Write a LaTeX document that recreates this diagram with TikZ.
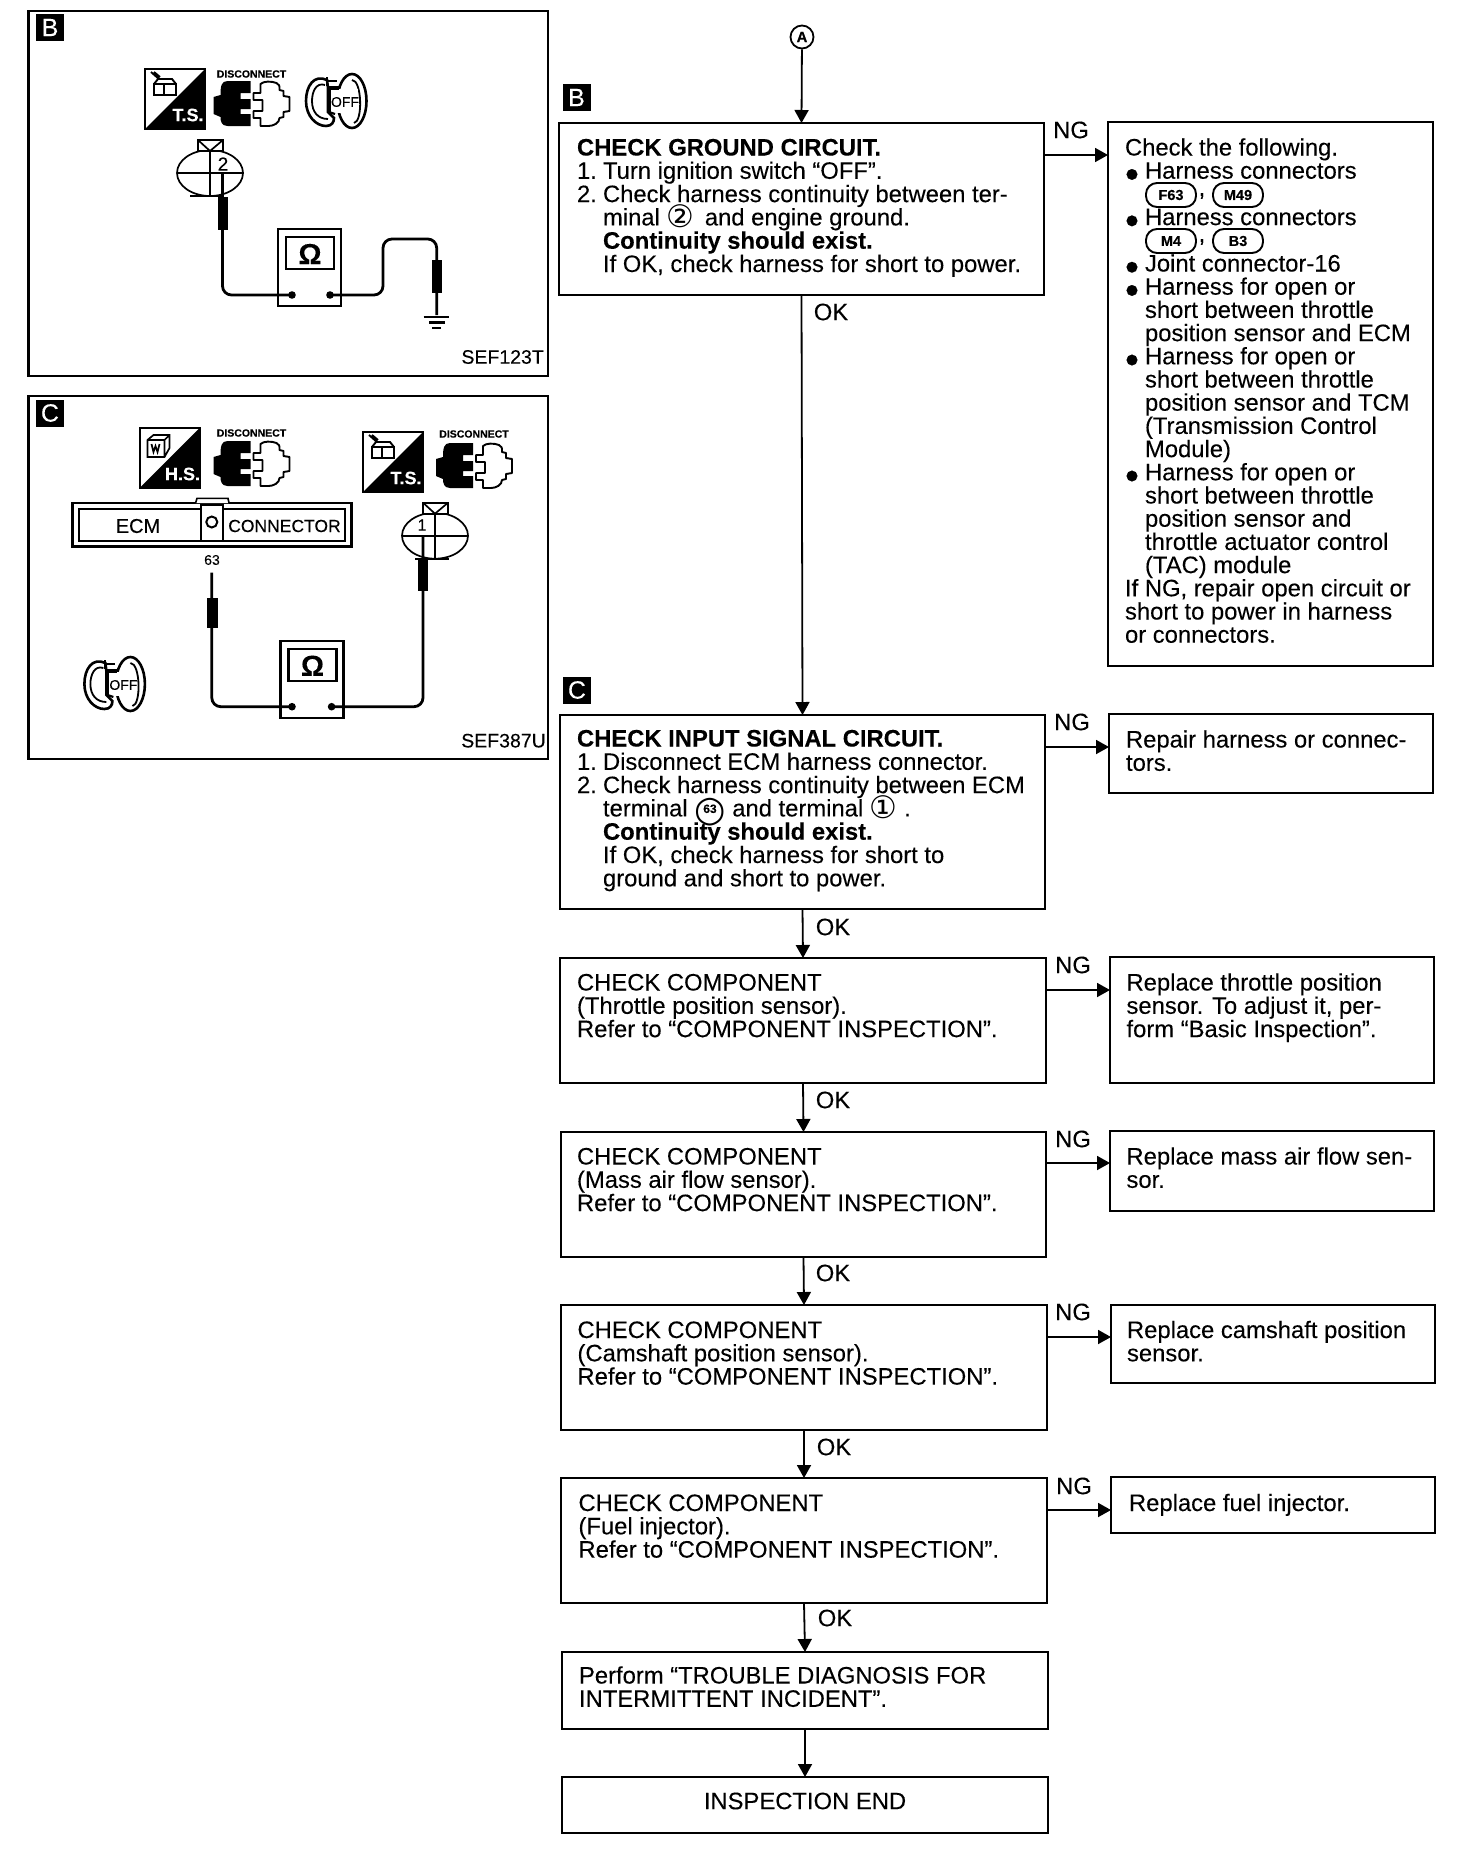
\documentclass[tikz,border=0pt]{standalone}
\usepackage{fontspec}
\setmainfont{Liberation Sans}[FakeBold=0.12]
\newfontfamily\djv{DejaVu Sans}
\usetikzlibrary{arrows.meta}
\newcommand\firstln{\rule{0pt}{18pt}}
\newcommand\tightlines{\lineskiplimit=-100pt\relax\lineskip=0pt\relax}
\newcommand\numcol[1]{\makebox[26pt][l]{#1}}
\newcommand\indentcol{\hspace*{26pt}}
\newcommand\bul{\makebox[20pt][l]{\smash{\raisebox{-9pt}{\fontsize{40}{40}\selectfont •}}}}
\newcommand\bulind{\hspace*{20pt}}
\newcommand\cdig[1]{\smash{\raisebox{-2.5pt}{\djv\fontsize{31}{31}\selectfont #1}}}
\newcommand\csixtythree{\smash{\ooalign{\raisebox{-5pt}{\djv\fontsize{36}{36}\selectfont ○}\cr\hfil\raisebox{3.5pt}{\fontsize{12}{12}\selectfont\bfseries 63}\hfil\cr}}}
\newcommand\flowbox[5]{%
  \pgfmathsetlengthmacro\bw{(#4-#2)*1pt}%
  \pgfmathsetlengthmacro\bh{(#5-#3)*1pt}%
  \node[boxnode,minimum width=\bw,minimum height=\bh] (#1) at ({(#2+#4)/2},{(#3+#5)/2}) {};}
\tikzset{
  boxnode/.style={draw,line width=2.4pt,inner sep=0pt,outer sep=0pt},
  panelnode/.style={draw,line width=2.2pt,inner sep=0pt,outer sep=0pt},
  txt/.style={anchor=north west,inner sep=0pt,outer sep=0pt,align=left,
    font=\fontsize{23.8}{23.3}\selectfont\tightlines},
  flag/.style={inner sep=0pt,font=\fontsize{23.8}{23.8}\selectfont},
  badge/.style={fill=black,text=white,inner sep=0pt,minimum width=28pt,minimum height=27pt,font=\fontsize{25}{25}\selectfont},
  conn/.style={draw,line width=1.8pt,-{Triangle[length=13pt,width=14pt]}},
  oval/.style={draw,line width=1.9pt,rounded corners=11pt,minimum width=50pt,minimum height=24pt,inner sep=0pt,font=\fontsize{14.5}{14.5}\selectfont\bfseries},
  wire/.style={line width=2.8pt,rounded corners=9pt},
  thinl/.style={line width=1.7pt},
  discotxt/.style={inner sep=0pt,font=\fontsize{10.5}{10.5}\selectfont\bfseries},
  sef/.style={anchor=east,inner sep=0pt,font=\fontsize{19.5}{19.5}\selectfont},
  tsicon/.pic={
    \fill[black] (0,60) -- (60,0) -- (60,60) -- cycle;
    \draw[line width=2pt] (0,0) rectangle (60,60);
    \draw[line width=1.9pt] (9,15) rectangle (19,26) (19,15) rectangle (31,26)
      (9,15) -- (13,10) -- (27,10) -- (31,15) (6,3) -- (14,10) (9,3) -- (15,8);
    \node[text=white,inner sep=0pt,font=\fontsize{18}{18}\selectfont\bfseries] (lbl) at (43,46) {#1};
  },
  hsicon/.pic={
    \fill[black] (0,60) -- (60,0) -- (60,60) -- cycle;
    \draw[line width=2pt] (0,0) rectangle (60,60);
    \draw[line width=1.7pt] (8,12) -- (14,7) -- (30,7) -- (30,20) -- (25,29) -- (8,29) -- cycle (8,12) -- (25,12) -- (30,7) (25,12) -- (25,29)
      (12,16) -- (14,24) -- (16,18) -- (18,24) -- (20,16);
    \node[text=white,inner sep=0pt,font=\fontsize{18}{18}\selectfont\bfseries] (lbl) at (43,46) {#1};
  },
  plug/.pic={
    \fill[black] (14,0) -- (37,0) -- (37,12) -- (27,12) -- (27,18) -- (37,18) -- (37,28) -- (27,28) -- (27,33) -- (37,33) -- (37,45) -- (14,45)
      .. controls (8,45) and (7,40) .. (7,36) -- (0,33) -- (0,16) -- (7,14) .. controls (7,5) and (8,0) .. (14,0) -- cycle;
    \draw[line width=1.9pt,line join=round] (40,12) -- (47,12) -- (47,3) .. controls (50,0) and (58,0) .. (63,2) .. controls (66,4) .. (66,9)
      -- (70,10) -- (70,15) -- (76,16) -- (76,30) -- (70,31) -- (70,36) -- (66,37) .. controls (66,42) and (60,45) .. (55,45) -- (47,45)
      -- (47,37) -- (40,37) -- (40,30) -- (49,30) -- (49,19) -- (40,19) -- cycle;
  },
  keyicon/.pic={
    \draw[line width=2.6pt,fill=white] (46,29) ellipse (14.5 and 27);
    \draw[line width=1.8pt] (46,8) .. controls (56,8) and (57,50) .. (48,51);
    \draw[line width=2.6pt,fill=white] (21,8) .. controls (8,2) and (0,14) .. (0,29) .. controls (0,44) and (10,54) .. (20,54) .. controls (26,54) and (28,50) .. (28,46) -- (22,40) -- (22,16) -- cycle;
    \draw[line width=1.8pt] (19,13) .. controls (10,10) and (6,20) .. (6,29) .. controls (6,40) and (12,47) .. (22,47);
    \fill[white] (24,17) rectangle (52,41);
    \draw[line width=3.2pt] (23,40) -- (23,16) -- (33,16);
    \draw[line width=2.2pt] (23,40) -- (29,42);
    \draw[line width=2pt] (21,5) -- (21,14) (21,9) -- (31,9);
    \node[inner sep=0pt,font=\fontsize{14}{14}\selectfont] (off) at (39,30) {OFF};
  },
  connector/.pic={
    \draw[thinl,fill=white] (0,0) ellipse (33 and 23);
    \draw[thinl] (-33,0) -- (33,0) (0,-23) -- (0,23);
    \draw[line width=2.4pt] (-20,23) -- (14,23);
    \draw[thinl,fill=white] (-12,-33) rectangle (13,-22);
    \draw[thinl] (-12,-33) -- (0,-22) -- (13,-33);
  },
  meter/.pic={
    \draw[line width=2.2pt,fill=white] (0,0) rectangle (63,77);
    \draw[line width=2.2pt] (8,8) rectangle (56,40);
    \node[inner sep=0pt,font=\fontsize{29}{29}\selectfont\bfseries] (om) at (32,25) {Ω};
  }
}
\begin{document}
\begin{tikzpicture}[x=1pt,y=-1pt]
\useasboundingbox (0,0) rectangle (1456,1868);
\fill[white] (0,0) rectangle (1456,1868);

% ---------- flow chart ----------
\node[draw,circle,line width=1.8pt,minimum size=23pt,inner sep=0pt,font=\fontsize{15}{15}\selectfont\bfseries] (A) at (802,37) {A};
\flowbox{box1}{559}{123}{1044}{295}
\flowbox{right1}{1108}{122}{1433}{666}
\flowbox{box2}{560}{715}{1045}{909}
\flowbox{right2}{1109}{714}{1433}{793}
\flowbox{comp1}{560}{958}{1046}{1083}
\flowbox{repl1}{1110}{957}{1434}{1083}
\flowbox{comp2}{561}{1132}{1046}{1257}
\flowbox{repl2}{1110}{1131}{1434}{1211}
\flowbox{comp3}{561}{1305}{1047}{1430}
\flowbox{repl3}{1111}{1305}{1435}{1383}
\flowbox{comp4}{561}{1478}{1047}{1603}
\flowbox{repl4}{1111}{1477}{1435}{1533}
\flowbox{perf}{562}{1652}{1048}{1729}
\flowbox{endb}{562}{1777}{1048}{1833}

\node[badge] (fb) at (576.5,97.5) {B};
\node[badge] (fc) at (577,690) {C};

\node[txt] (t1) at (577,137.5) {\firstln\textbf{CHECK GROUND CIRCUIT.}\\
\numcol{1.}Turn ignition switch “OFF”.\\
\numcol{2.}Check harness continuity between ter-\\
\indentcol minal \cdig{②} \,and engine ground.\\
\indentcol\textbf{Continuity should exist.}\\
\indentcol If OK, check harness for short to power.};

\node[txt,font=\fontsize{23.8}{23.2}\selectfont\tightlines] (t2) at (1125,137.5) {\firstln Check the following.\\
\bul Harness connectors\\
\mbox{}\\
\bul Harness connectors\\
\mbox{}\\
\bul Joint connector-16\\
\bul Harness for open or\\
\bulind short between throttle\\
\bulind position sensor and ECM\\
\bul Harness for open or\\
\bulind short between throttle\\
\bulind position sensor and TCM\\
\bulind (Transmission Control\\
\bulind Module)\\
\bul Harness for open or\\
\bulind short between throttle\\
\bulind position sensor and\\
\bulind throttle actuator control\\
\bulind (TAC) module\\
If NG, repair open circuit or\\
short to power in harness\\
or connectors.};

\node[oval] (f63) at (1171,195) {F63};
\node[inner sep=0pt,flag] (c1) at (1202,196) {,};
\node[oval] (m49) at (1238,195) {M49};
\node[oval] (m4) at (1171,241) {M4};
\node[inner sep=0pt,flag] (c2) at (1202,242) {,};
\node[oval] (b3) at (1238,241) {B3};

\node[txt] (t3) at (577,728.5) {\firstln\textbf{CHECK INPUT SIGNAL CIRCUIT.}\\
\numcol{1.}Disconnect ECM harness connector.\\
\numcol{2.}Check harness continuity between ECM\\
\indentcol terminal \csixtythree{} and terminal \cdig{①} .\\
\indentcol\textbf{Continuity should exist.}\\
\indentcol If OK, check harness for short to\\
\indentcol ground and short to power.};

\node[txt] (t4) at (1126,729.5) {\firstln Repair harness or connec-\\tors.};
\node[txt] (t5) at (577,972.5) {\firstln CHECK COMPONENT\\(Throttle position sensor).\\Refer to “COMPONENT INSPECTION”.};
\node[txt] (t6) at (1126.5,972.5) {\firstln Replace throttle position\\sensor. To adjust it, per-\\form “Basic Inspection”.};
\node[txt] (t7) at (577,1146.5) {\firstln CHECK COMPONENT\\(Mass air flow sensor).\\Refer to “COMPONENT INSPECTION”.};
\node[txt] (t8) at (1126.5,1146.5) {\firstln Replace mass air flow sen-\\sor.};
\node[txt] (t9) at (577.5,1320) {\firstln CHECK COMPONENT\\(Camshaft position sensor).\\Refer to “COMPONENT INSPECTION”.};
\node[txt] (t10) at (1127,1320) {\firstln Replace camshaft position\\sensor.};
\node[txt] (t11) at (578.5,1493) {\firstln CHECK COMPONENT\\(Fuel injector).\\Refer to “COMPONENT INSPECTION”.};
\node[txt] (t12) at (1129,1493) {\firstln Replace fuel injector.};
\node[txt] (t13) at (579,1665.5) {\firstln Perform “TROUBLE DIAGNOSIS FOR\\INTERMITTENT INCIDENT”.};
\node[flag] (t14) at (805,1801) {INSPECTION END};

% connectors
\coordinate (n1) at (0,155);
\coordinate (n2) at (0,747);
\coordinate (n3) at (0,990);
\coordinate (n4) at (0,1163);
\coordinate (n5) at (0,1337);
\coordinate (n6) at (0,1510);
\draw[conn] (A) -- (box1.north);
\draw[conn] (box1.south) -- (box2.north);
\draw[conn] (box2.south) -- (comp1.north);
\draw[conn] (comp1.south) -- (comp2.north);
\draw[conn] (comp2.south) -- (comp3.north);
\draw[conn] (comp3.south) -- (comp4.north);
\draw[conn] (comp4.south) -- (perf.north);
\draw[conn] (perf.south) -- (endb.north);
\draw[conn] (box1.east |- n1) -- (right1.west |- n1);
\draw[conn] (box2.east |- n2) -- (right2.west |- n2);
\draw[conn] (comp1.east |- n3) -- (repl1.west |- n3);
\draw[conn] (comp2.east |- n4) -- (repl2.west |- n4);
\draw[conn] (comp3.east |- n5) -- (repl3.west |- n5);
\draw[conn] (comp4.east |- n6) -- (repl4.west |- n6);

\node[flag] (ok1) at (831,312) {OK};
\node[flag] (ok2) at (833,927) {OK};
\node[flag] (ok3) at (833,1100) {OK};
\node[flag] (ok4) at (833,1273) {OK};
\node[flag] (ok5) at (834,1447) {OK};
\node[flag] (ok6) at (835,1618) {OK};
\node[flag] (ng1) at (1071,130) {NG};
\node[flag] (ng2) at (1072,722) {NG};
\node[flag] (ng3) at (1073,965) {NG};
\node[flag] (ng4) at (1073,1139) {NG};
\node[flag] (ng5) at (1073,1312) {NG};
\node[flag] (ng6) at (1074,1486) {NG};

% ---------- panel B ----------
\node[panelnode,minimum width=519.5pt,minimum height=364.5pt] (pb) at (288.3,193.5) {};
\node[badge] (pbb) at (50,27.5) {B};
\pic at (145,69) {tsicon={T.S.}};
\node[discotxt] (db) at (251.5,74) {DISCONNECT};
\pic at (213.5,81) {plug};
\pic at (306,72) {keyicon};
\pic at (210,173) {connector};
\node[inner sep=0pt,fill=white,font=\fontsize{19}{19}\selectfont] (t2b) at (223,164) {2};
\pic at (278,229) {meter};
\draw[wire] (222.5,173) -- (222.5,295) -- (292,295);
\fill[black] (218,197) rectangle (227.5,230);
\fill[black] (292,295) circle (3.8);
\fill[black] (330,295) circle (3.8);
\draw[wire] (330,295) -- (383,295) -- (383,239) -- (436.7,239) -- (436.7,315);
\fill[black] (432,260) rectangle (441.5,293);
\draw[line width=2.8pt] (423.6,317) -- (449,317);
\draw[line width=2.8pt] (429,322.5) -- (445,322.5);
\draw[line width=2.8pt] (432,328) -- (441,328);
\node[sef] (sefb) at (544,357) {SEF123T};

% ---------- panel C ----------
\node[panelnode,minimum width=519.5pt,minimum height=363pt] (pc) at (288.3,577.5) {};
\node[badge] (pcc) at (50,413) {C};
\pic at (139.5,428) {hsicon={H.S.}};
\node[discotxt] (dc1) at (251.5,433) {DISCONNECT};
\pic at (213.5,441) {plug};
\pic at (363,432) {tsicon={T.S.}};
\node[discotxt] (dc2) at (474,434) {DISCONNECT};
\pic at (436,443) {plug};
\draw[line width=2.6pt] (72.3,503) rectangle (351.6,546.7);
\draw[line width=2pt] (78.5,509) rectangle (345.4,540.7);
\draw[line width=1.6pt,fill=white] (195.6,503) -- (197,498.3) -- (228,498.3) -- (229,503);
\draw[line width=2.2pt,fill=white] (200.8,505) rectangle (223,540.7);
\draw[line width=2pt] (211.8,522) circle (5.5);
\node[inner sep=0pt,font=\fontsize{20}{20}\selectfont] (ecm) at (138,526) {ECM};
\node[inner sep=0pt,font=\fontsize{17.5}{17.5}\selectfont] (cn) at (284.5,526) {CONNECTOR};
\node[inner sep=0pt,font=\fontsize{14}{14}\selectfont] (n63) at (212,560) {63};
\pic at (435,535.7) {connector};
\node[inner sep=0pt,fill=white,font=\fontsize{16}{16}\selectfont] (t1c) at (422,525) {1};
\pic at (280.5,640.7) {meter};
\draw[wire] (211.8,572.7) -- (211.8,706.7) -- (292,706.7);
\fill[black] (207,598) rectangle (217.5,628);
\fill[black] (292,706.7) circle (3.8);
\fill[black] (331.6,706.7) circle (3.8);
\draw[wire] (331.6,706.7) -- (423,706.7) -- (423,535);
\fill[black] (418,560) rectangle (427.5,591);
\pic at (84.4,655) {keyicon};
\node[sef] (sefc) at (546,740.7) {SEF387U};
\end{tikzpicture}
\end{document}
